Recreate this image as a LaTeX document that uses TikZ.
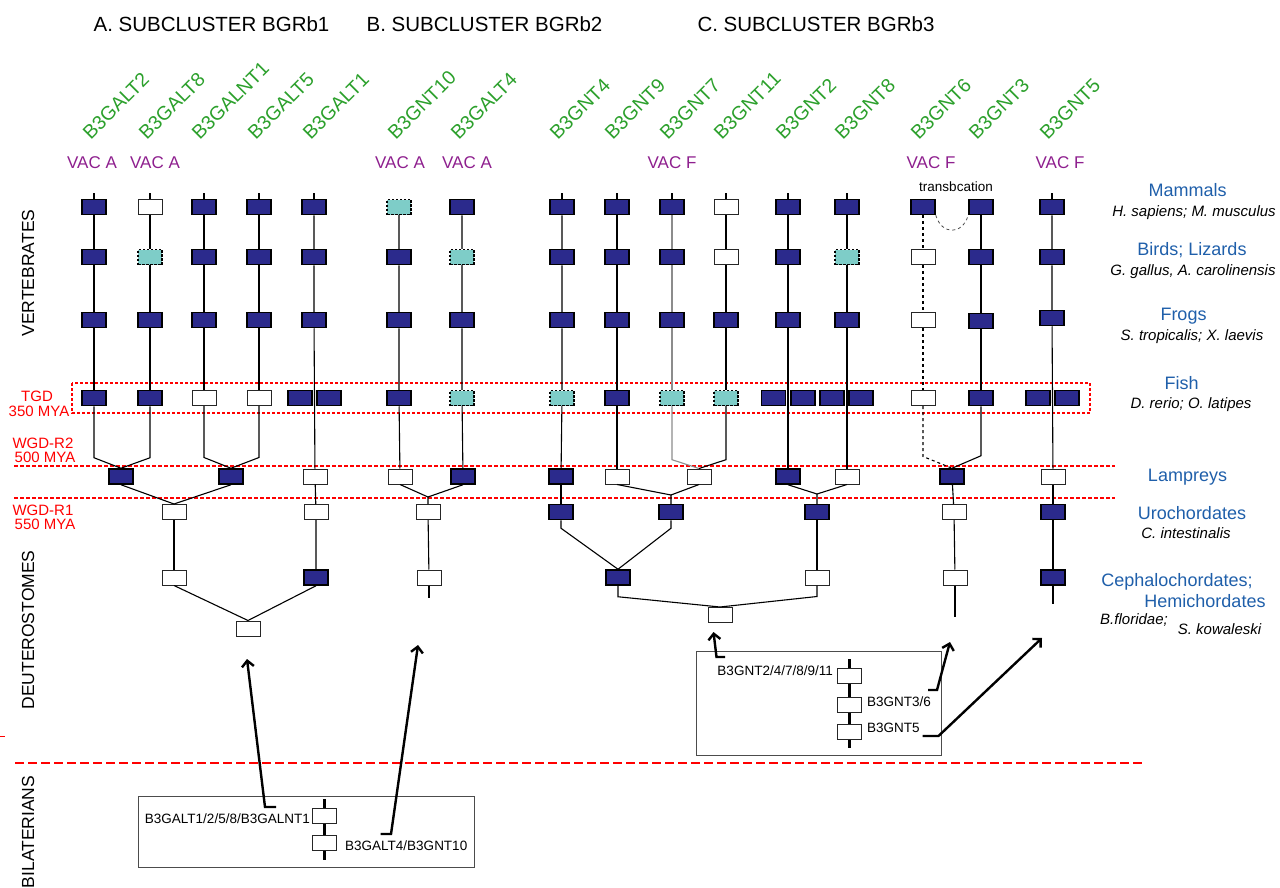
\documentclass[tikz,border=0pt]{standalone}
\usepackage{fontspec}
\setmainfont{Liberation Sans}
\usetikzlibrary{arrows.meta}

\definecolor{genenavy}{HTML}{2B2A8C}
\definecolor{genecyan}{HTML}{7ECDC8}
\definecolor{genegreen}{HTML}{2CA02C}
\definecolor{vacpurple}{HTML}{8E1F8E}
\definecolor{taxblue}{HTML}{1F5FAA}
\definecolor{eventred}{HTML}{FF0000}

\begin{document}
\begin{tikzpicture}[
      x=1pt, y=-1pt,
      >={Straight Barb[length=6pt,width=12pt]},
      gbox/.style={minimum width=24pt, minimum height=15pt, inner sep=0pt},
      kept/.style={gbox, fill=genenavy, draw=black, line width=1.5pt},
      nogene/.style={gbox, fill=white, draw=black!85, line width=1pt},
      partial/.style={gbox, fill=genecyan, draw=black, line width=1.4pt, dash pattern=on 2.5pt off 1.5pt},
      branch/.style={line width=1.1pt},
      heading/.style={font=\fontsize{20.5}{24}\selectfont},
      genename/.style={text=genegreen, rotate=45, anchor=south west, inner sep=0pt, font=\fontsize{19.5}{22}\selectfont},
      vac/.style={text=vacpurple, font=\fontsize{17}{20}\selectfont},
      taxon/.style={text=taxblue, font=\fontsize{18}{21}\selectfont},
      species/.style={font=\fontsize{15}{18}\selectfont\itshape},
      event/.style={text=eventred, font=\fontsize{15}{18}\selectfont},
      clade/.style={rotate=90, font=\fontsize{17.5}{20}\selectfont},
      ancestor/.style={font=\fontsize{13.5}{16}\selectfont, inner sep=1pt},
      wgd/.style={eventred, line width=1.8pt, dash pattern=on 4pt off 2pt},
      pointer/.style={->, line width=2.4pt}
    ]
      \useasboundingbox (0,0) rectangle (1280,888);

      % headings
      \node[heading] (hA) at (211.5,24) {A. SUBCLUSTER BGRb1};
      \node[heading] (hB) at (484.5,24) {B. SUBCLUSTER BGRb2};
      \node[heading] (hC) at (816,24) {C. SUBCLUSTER BGRb3};

      % gene names
      \node[genename] (nb3galt2) at (91,141) {B3GALT2};
      \node[genename] (nb3galt8) at (147,141) {B3GALT8};
      \node[genename] (nb3galnt1) at (200,141) {B3GALNT1};
      \node[genename] (nb3galt5) at (256,141) {B3GALT5};
      \node[genename] (nb3galt1) at (311,141) {B3GALT1};
      \node[genename] (nb3gnt10) at (396,141) {B3GNT10};
      \node[genename] (nb3galt4) at (459,141) {B3GALT4};
      \node[genename] (nb3gnt4) at (558,141) {B3GNT4};
      \node[genename] (nb3gnt9) at (613,141) {B3GNT9};
      \node[genename] (nb3gnt7) at (668,141) {B3GNT7};
      \node[genename] (nb3gnt11) at (722,141) {B3GNT11};
      \node[genename] (nb3gnt2) at (784,141) {B3GNT2};
      \node[genename] (nb3gnt8) at (843,141) {B3GNT8};
      \node[genename] (nb3gnt6) at (919,141) {B3GNT6};
      \node[genename] (nb3gnt3) at (977,141) {B3GNT3};
      \node[genename] (nb3gnt5) at (1048,141) {B3GNT5};

      \node[vac] (vac1) at (92,162.5) {VAC A};
      \node[vac] (vac2) at (155,162.5) {VAC A};
      \node[vac] (vac3) at (400,162.5) {VAC A};
      \node[vac] (vac4) at (467,162.5) {VAC A};
      \node[vac] (vac5) at (672,162.5) {VAC F};
      \node[vac] (vac6) at (931,162.5) {VAC F};
      \node[vac] (vac7) at (1060,162.5) {VAC F};

      % clades and events
      \node[clade] (vert) at (28,273) {VERTEBRATES};
      \node[clade] (deut) at (28,630) {DEUTEROSTOMES};
      \node[clade] (bila) at (28,832) {BILATERIANS};
      \node[event] (tgd) at (37,396) {TGD};
      \node[event] (tgdage) at (39,411) {350 MYA};
      \node[event] (wgd2) at (43,443) {WGD-R2};
      \node[event] (wgd2age) at (45,457.5) {500 MYA};
      \node[event] (wgd1) at (43,510) {WGD-R1};
      \node[event] (wgd1age) at (45,524) {550 MYA};

      \draw[eventred, line width=1.1pt, dash pattern=on 3pt off 2pt] (72,383) rectangle (1090,413);
      \draw[wgd] (14,466) -- (1115,466);
      \draw[wgd] (14,498) -- (1115,498);
      \draw[eventred, line width=1.2pt, dash pattern=on 9pt off 4pt] (15,763) -- (1143,763);
      \draw[eventred, line width=0.8pt] (0,736) -- (5,736);

      % taxa
      \node[taxon] (mammals) at (1187.5,190) {Mammals};
      \node[species] (spmammals) at (1194,213) {H. sapiens; M. musculus};
      \node[taxon] (birds) at (1192,250) {Birds; Lizards};
      \node[species] (spbirds) at (1193,272) {G. gallus, A. carolinensis};
      \node[taxon] (frogs) at (1183.5,316) {Frogs};
      \node[species] (spfrogs) at (1192,337) {S. tropicalis; X. laevis};
      \node[taxon] (fish) at (1181.5,383) {Fish};
      \node[species] (spfish) at (1191,405) {D. rerio; O. latipes};
      \node[taxon] (lampreys) at (1187.5,477) {Lampreys};
      \node[taxon] (uro) at (1192,513) {Urochordates};
      \node[species] (spuro) at (1186,533) {C. intestinalis};
      \node[taxon] (cepha) at (1177,582) {Cephalochordates;};
      \node[taxon] (hemi) at (1205,601) {Hemichordates};
      \node[species] (spcepha) at (1134,620) {B.floridae;};
      \node[species] (sphemi) at (1219.5,629) {S. kowaleski};

      % subcluster A
      \node[kept] (a1m) at (94,207) {};
      \node[kept] (a1b) at (94,257) {};
      \node[kept] (a1f) at (94,320) {};
      \node[kept] (a1t) at (94,398) {};
      \node[nogene] (a2m) at (150,207) {};
      \node[partial] (a2b) at (150,257) {};
      \node[kept] (a2f) at (150,320) {};
      \node[kept] (a2t) at (150,398) {};
      \node[kept] (a3m) at (204,207) {};
      \node[kept] (a3b) at (204,257) {};
      \node[kept] (a3f) at (204,320) {};
      \node[nogene] (a3t) at (204,398) {};
      \node[kept] (a4m) at (259,207) {};
      \node[kept] (a4b) at (259,257) {};
      \node[kept] (a4f) at (259,320) {};
      \node[nogene] (a4t) at (259,398) {};
      \node[kept] (a5m) at (314,207) {};
      \node[kept] (a5b) at (314,257) {};
      \node[kept] (a5f) at (314,320) {};
      \node[kept] (a5t1) at (300,398) {};
      \node[kept] (a5t2) at (329,398) {};

      \node[kept] (la1) at (121,476.5) {};
      \node[kept] (la2) at (231,476.5) {};
      \node[nogene] (la3) at (315,476.5) {};
      \node[nogene] (ua1) at (174,512) {};
      \node[nogene] (ua2) at (316,512) {};
      \node[nogene] (ca1) at (174,577.5) {};
      \node[kept] (ca2) at (316,577.5) {};
      \node[nogene] (ra) at (248,628.5) {};

      \draw[branch] (a1m.north) -- ++(0,-6);
      \draw[branch] (a2m.north) -- ++(0,-6);
      \draw[branch] (a3m.north) -- ++(0,-6);
      \draw[branch] (a4m.north) -- ++(0,-6);
      \draw[branch] (a5m.north) -- ++(0,-6);
      \draw[branch] (a1m) -- (a1b) -- (a1f) -- (a1t);
      \draw[branch] (a2m) -- (a2b) -- (a2f) -- (a2t);
      \draw[branch] (a3m) -- (a3b) -- (a3f) -- (a3t);
      \draw[branch] (a4m) -- (a4b) -- (a4f) -- (a4t);
      \draw[branch] (a5m) -- (a5b) -- (a5f) -- (la3);
      \draw[branch] (a1t.south) -- ++(0,51.5) -- (la1.north);
      \draw[branch] (a2t.south) -- ++(0,51.5) -- (la1.north);
      \draw[branch] (a3t.south) -- ++(0,51.5) -- (la2.north);
      \draw[branch] (a4t.south) -- ++(0,51.5) -- (la2.north);
      \draw[branch] (la1.south) -- (ua1.north);
      \draw[branch] (la2.south) -- (ua1.north);
      \draw[branch] (la3) -- (ua2) -- (ca2);
      \draw[branch] (ua1) -- (ca1);
      \draw[branch] (ca1.south) -- (ra.north);
      \draw[branch] (ca2.south) -- (ra.north);

      % subcluster B
      \node[partial] (b1m) at (399,207) {};
      \node[kept] (b1b) at (399,257) {};
      \node[kept] (b1f) at (399,320) {};
      \node[kept] (b1t) at (399,398) {};
      \node[kept] (b2m) at (462,207) {};
      \node[partial] (b2b) at (462,257) {};
      \node[kept] (b2f) at (462,320) {};
      \node[partial] (b2t) at (462,398) {};

      \node[nogene] (lb1) at (400,476.5) {};
      \node[kept] (lb2) at (463,476.5) {};
      \coordinate (jb) at (428,497);
      \node[nogene] (ub1) at (428,512) {};
      \node[nogene] (cb1) at (429,577.5) {};

      \draw[branch] (b1m) -- (b1b) -- (b1f) -- (b1t) -- (lb1);
      \draw[branch] (b2m) -- (b2b) -- (b2f) -- (b2t) -- (lb2);
      \draw[branch] (lb1.south) -- (jb) -- (ub1.north);
      \draw[branch] (lb2.south) -- (jb);
      \draw[branch] (ub1) -- (cb1);
      \draw[branch] (cb1.south) -- ++(0,12);

      % subcluster C
      \node[kept] (c1m) at (562,207) {};
      \node[kept] (c1b) at (562,257) {};
      \node[kept] (c1f) at (562,320) {};
      \node[partial] (c1t) at (562,398) {};
      \node[kept] (c2m) at (617,207) {};
      \node[kept] (c2b) at (617,257) {};
      \node[kept] (c2f) at (617,320) {};
      \node[kept] (c2t) at (617,398) {};
      \node[kept] (c3m) at (672,207) {};
      \node[kept] (c3b) at (672,257) {};
      \node[kept] (c3f) at (672,320) {};
      \node[partial] (c3t) at (672,398) {};
      \node[nogene] (c4m) at (726,207) {};
      \node[nogene] (c4b) at (726,257) {};
      \node[kept] (c4f) at (726,320) {};
      \node[partial] (c4t) at (726,398) {};
      \node[kept] (c5m) at (788,207) {};
      \node[kept] (c5b) at (788,257) {};
      \node[kept] (c5f) at (788,320) {};
      \node[kept] (c5t1) at (773.5,398) {};
      \node[kept] (c5t2) at (803,398) {};
      \node[kept] (c6m) at (847,207) {};
      \node[partial] (c6b) at (847,257) {};
      \node[kept] (c6f) at (847,320) {};
      \node[kept] (c6t1) at (832,398) {};
      \node[kept] (c6t2) at (861,398) {};
      \node[kept] (c7m) at (923,207) {};
      \node[nogene] (c7b) at (923,257) {};
      \node[nogene] (c7f) at (923,320) {};
      \node[nogene] (c7t) at (923,398) {};
      \node[kept] (c8m) at (981,207) {};
      \node[kept] (c8b) at (981,257) {};
      \node[kept] (c8f) at (981,321) {};
      \node[kept] (c8t) at (981,398) {};
      \node[kept] (c9m) at (1052,207) {};
      \node[kept] (c9b) at (1052,257) {};
      \node[kept] (c9f) at (1052,318) {};
      \node[kept] (c9t1) at (1038,398) {};
      \node[kept] (c9t2) at (1067,398) {};
      \node[font=\fontsize{13.5}{16}\selectfont] (transl) at (956,187) {transbcation};

      \node[kept] (lc1) at (561,476.5) {};
      \node[nogene] (lc2) at (617,476.5) {};
      \node[nogene] (lc3) at (699,476.5) {};
      \node[kept] (lc4) at (788,476.5) {};
      \node[nogene] (lc5) at (847,476.5) {};
      \node[kept] (lc6) at (952,476.5) {};
      \node[nogene] (lc7) at (1053,476.5) {};
      \coordinate (jc1) at (671,495);
      \coordinate (jc2) at (817,494);
      \node[kept] (uc1) at (561,512) {};
      \node[kept] (uc2) at (671,512) {};
      \node[kept] (uc3) at (817,512) {};
      \node[nogene] (uc4) at (954,512) {};
      \node[kept] (uc5) at (1053,512) {};
      \node[kept] (cc1) at (618,577.5) {};
      \node[nogene] (cc2) at (817,577.5) {};
      \node[nogene] (cc3) at (955,577.5) {};
      \node[kept] (cc4) at (1053,577.5) {};
      \node[nogene] (rc) at (720,615) {};

      \draw[branch] (c1m.north) -- ++(0,-6);
      \draw[branch] (c2m.north) -- ++(0,-6);
      \draw[branch] (c3m.north) -- ++(0,-6);
      \draw[branch] (c4m.north) -- ++(0,-6);
      \draw[branch] (c5m.north) -- ++(0,-6);
      \draw[branch] (c6m.north) -- ++(0,-6);
      \draw[branch] (c9m.north) -- ++(0,-6);
      \draw[branch] (c1m) -- (c1b) -- (c1f) -- (c1t) -- (lc1);
      \draw[branch] (c2m) -- (c2b) -- (c2f) -- (c2t) -- (lc2);
      \draw[branch, black!45] (c3m) -- (c3b) -- (c3f) -- (c3t);
      \draw[branch, black!45] (c3t.south) -- ++(0,53.5) -- (lc3.north);
      \draw[branch] (c4m) -- (c4b) -- (c4f) -- (c4t);
      \draw[branch] (c4t.south) -- ++(0,53.5) -- (lc3.north);
      \draw[branch] (c5m) -- (c5b) -- (c5f) -- (lc4);
      \draw[branch] (c6m) -- (c6b) -- (c6f) -- (lc5);
      \draw[branch, dashed] (c7m) -- (c7b) -- (c7f) -- (c7t);
      \draw[branch, dashed] (c7t.south) -- ++(0,50.5) -- (lc6.north);
      \draw[branch] (c8m) -- (c8b) -- (c8f) -- (c8t);
      \draw[branch] (c8t.south) -- ++(0,49.5) -- (lc6.north);
      \draw[branch] (c9m) -- (c9b) -- (c9f) -- (lc7);
      \draw[black!70, line width=0.8pt, dashed]
        (c7m.south east) .. controls +(6,20) and +(-6,20) .. (c8m.south west);

      \draw[branch] (lc2.south) -- (jc1) -- (uc2.north);
      \draw[branch] (lc3.south) -- (jc1);
      \draw[branch] (lc4.south) -- (jc2) -- (uc3.north);
      \draw[branch] (lc5.south) -- (jc2);
      \draw[branch] (lc1) -- (uc1);
      \draw[branch] (lc6) -- (uc4) -- (cc3);
      \draw[branch] (lc7) -- (uc5) -- (cc4);
      \draw[branch] (uc1.south) -- ++(0,8) -- (cc1.north);
      \draw[branch] (uc2.south) -- ++(0,8) -- (cc1.north);
      \draw[branch] (uc3) -- (cc2);
      \draw[branch] (cc1.south) -- ++(0,11) -- (rc.north);
      \draw[branch] (cc2.south) -- ++(0,11) -- (rc.north);
      \draw[branch] (cc3.south) -- ++(0,31);
      \draw[branch] (cc4.south) -- ++(0,18);

      % ancestral bilaterian loci
      \node[draw=black!70, line width=1pt, minimum width=336pt, minimum height=71pt] (bilA) at (306.5,831.5) {};
      \node[nogene] (anc1) at (324.5,816) {};
      \node[nogene] (anc2) at (324.5,843) {};
      \draw[line width=2.6pt] (anc1.north) -- ++(0,-9);
      \draw[line width=2.6pt] (anc1) -- (anc2);
      \draw[line width=2.6pt] (anc2.south) -- ++(0,8.5);
      \node[ancestor, anchor=east] (lanc1) at (311,819) {B3GALT1/2/5/8/B3GALNT1};
      \node[ancestor, anchor=west] (lanc2) at (344,846) {B3GALT4/B3GNT10};

      \node[draw=black!70, line width=1pt, minimum width=245.5pt, minimum height=104pt] (bilC) at (819,703) {};
      \node[nogene] (anc3) at (849.5,675.5) {};
      \node[nogene] (anc4) at (849.5,704.5) {};
      \node[nogene] (anc5) at (849.5,731.5) {};
      \draw[line width=2.6pt] (anc3.north) -- ++(0,-9);
      \draw[line width=2.6pt] (anc3) -- (anc4) -- (anc5);
      \draw[line width=2.6pt] (anc5.south) -- ++(0,8.5);
      \node[ancestor, anchor=east] (lanc3) at (834,671) {B3GNT2/4/7/8/9/11};
      \node[ancestor, anchor=west] (lanc4) at (866,701.5) {B3GNT3/6};
      \node[ancestor, anchor=west] (lanc5) at (866,728) {B3GNT5};

      % arrows
      \coordinate (srcA) at (276,807);
      \coordinate (tipA) at (247,659);
      \coordinate (srcB) at (380.5,834);
      \coordinate (tipB) at (418,645);
      \coordinate (srcC1) at (725,657);
      \coordinate (tipC1) at (713.5,632);
      \coordinate (srcC2) at (928,690);
      \coordinate (tipC2) at (950,642);
      \coordinate (srcC3) at (922.5,736);
      \coordinate (tipC3) at (1042,638);
      \draw[pointer] (srcA) -- ++(-11,0) -- (tipA);
      \draw[pointer] (srcB) -- ++(10.5,0) -- (tipB);
      \draw[pointer] (srcC1) -- ++(-8.5,0) -- (tipC1);
      \draw[pointer] (srcC2) -- ++(9,0) -- (tipC2);
      \draw[pointer] (srcC3) -- ++(16,0) -- (tipC3);
    \end{tikzpicture}
\end{document}
